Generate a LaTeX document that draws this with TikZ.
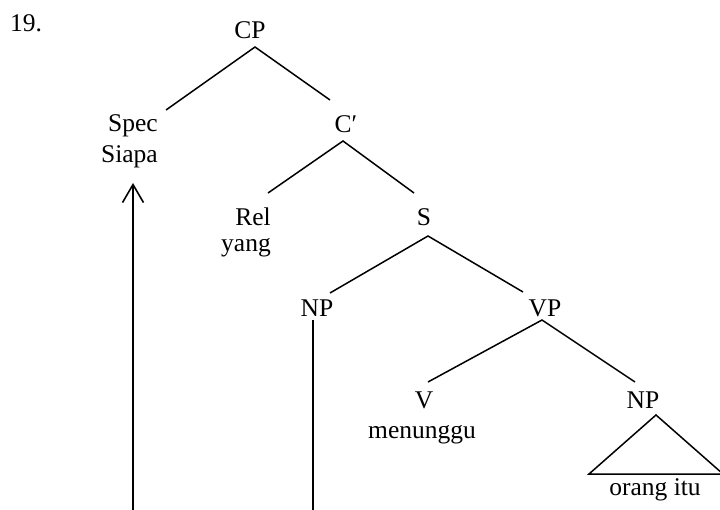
\documentclass[tikz,border=0pt]{standalone}
\usepackage{fontspec}
\setmainfont{Liberation Serif}
\usetikzlibrary{arrows.meta}
\begin{document}
\begin{tikzpicture}[x=1pt,y=-1pt,
  lbl/.style={inner sep=0pt,font=\fontsize{25.5}{30}\selectfont},
  branch/.style={line width=1.5pt},
  trace/.style={line width=2.2pt}]
\useasboundingbox (0,0) rectangle (720,510);
% labels
\node[lbl,anchor=base west] (num) at (10,32) {19.};
\node[lbl,anchor=base] (cp) at (250,39) {CP};
\node[lbl,anchor=base east] (spec) at (158,132) {Spec};
\node[lbl,anchor=base east] (siapa) at (158,163) {Siapa};
\node[lbl,anchor=base] (cbar) at (346,133) {C′};
\node[lbl,anchor=base east] (rel) at (271,226) {Rel};
\node[lbl,anchor=base east] (yang) at (271,252) {yang};
\node[lbl,anchor=base] (s) at (424,226) {S};
\node[lbl,anchor=base] (np1) at (317,317) {NP};
\node[lbl,anchor=base] (vp) at (545,317) {VP};
\node[lbl,anchor=base] (v) at (424,408) {V};
\node[lbl,anchor=base] (menunggu) at (422,438) {menunggu};
\node[lbl,anchor=base] (np2) at (643,408) {NP};
\node[lbl,anchor=base] (orang) at (655,495) {orang itu};
% branch points
\coordinate (cpB) at (255,47);
\coordinate (specT) at (166,110);
\coordinate (cbarT) at (330,100);
\coordinate (cbarB) at (343,141);
\coordinate (relT) at (268,193);
\coordinate (sT) at (414,193);
\coordinate (sB) at (428,236);
\coordinate (np1T) at (330,293);
\coordinate (vpT) at (523,292);
\coordinate (vpB) at (542,320);
\coordinate (vT) at (428,382);
\coordinate (np2T) at (635,382);
\coordinate (triA) at (656,415);
\coordinate (triL) at (589,474);
\coordinate (triR) at (723,474);
\coordinate (np1B) at (313,320);
\coordinate (np1E) at (313,512);
\coordinate (arrS) at (133,512);
\coordinate (arrT) at (133,183);
% tree
\draw[branch] (specT) -- (cpB) -- (cbarT);
\draw[branch] (relT) -- (cbarB) -- (sT);
\draw[branch] (np1T) -- (sB) -- (vpT);
\draw[branch] (vT) -- (vpB) -- (np2T);
\draw[branch,line join=miter] (triL) -- (triA) -- (triR) -- cycle;
% movement lines
\draw[trace] (np1B) -- (np1E);
\draw[trace,-{Straight Barb[length=18pt,width=21pt,line width=1.6pt]}] (arrS) -- (arrT);
\end{tikzpicture}
\end{document}
